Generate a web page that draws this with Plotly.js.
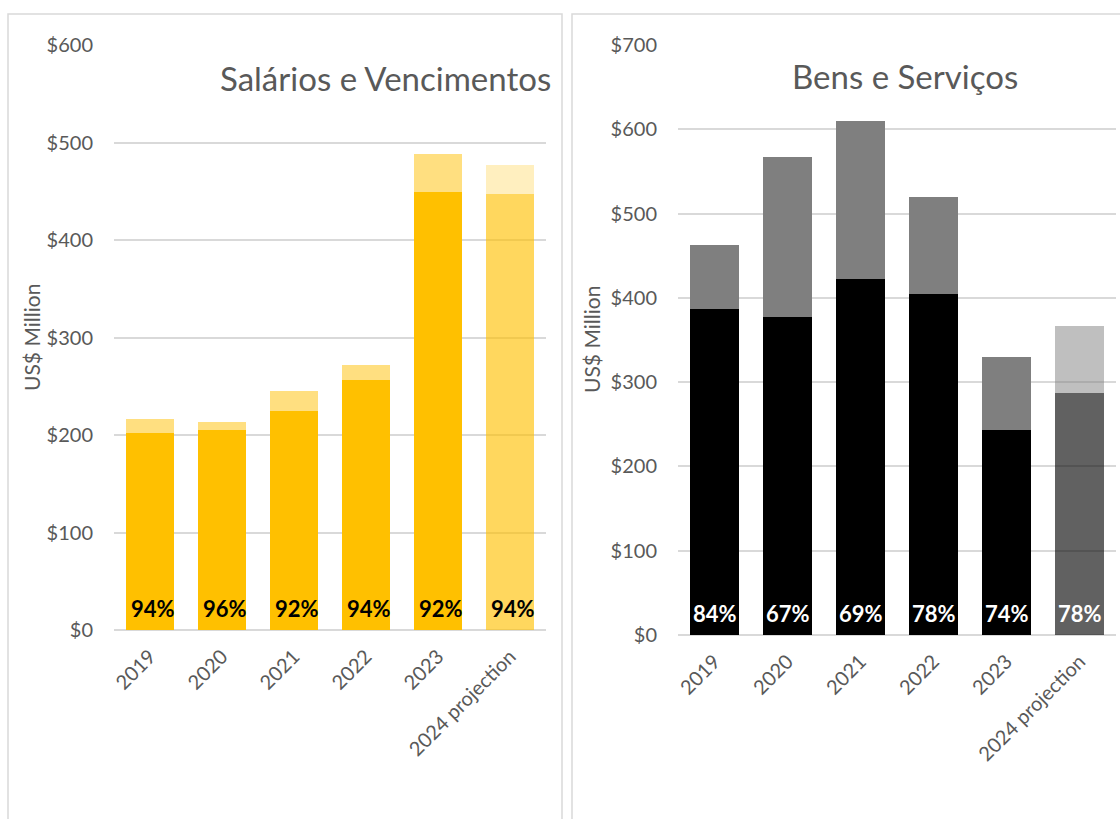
<!DOCTYPE html>
<html>
<head>
<meta charset="utf-8">
<script src="https://cdn.plot.ly/plotly-3.0.1.min.js"></script>
<style>html,body{margin:0;padding:0;background:#fff;}#chart{width:1120px;height:819px;}</style>
</head>
<body>
<div id="chart"></div>
<script>
const categories = ['2019', '2020', '2021', '2022', '2023', '2024 projection'];
const salariosTotal = [216, 213, 245, 272, 488, 477];
const salariosExecuted = [202, 205, 225, 256, 449, 447];
const salariosPct = ['94%', '96%', '92%', '94%', '92%', '94%'];
const bensTotal = [463, 567, 610, 520, 330, 367];
const bensExecuted = [387, 377, 422, 405, 243, 287];
const bensPct = ['84%', '67%', '69%', '78%', '74%', '78%'];
const yTicksLeft = [0, 100, 200, 300, 400, 500, 600];
const yTicksRight = [0, 100, 200, 300, 400, 500, 600, 700];

const salExecColors = ['#FFC000', '#FFC000', '#FFC000', '#FFC000', '#FFC000', 'rgba(255,192,0,0.63)'];
const salRestColors = ['#FFDF80', '#FFDF80', '#FFDF80', '#FFDF80', '#FFDF80', 'rgba(255,223,128,0.5)'];
const bensExecColors = ['#000000', '#000000', '#000000', '#000000', '#000000', 'rgba(0,0,0,0.62)'];
const bensRestColors = ['#7F7F7F', '#7F7F7F', '#7F7F7F', '#7F7F7F', '#7F7F7F', 'rgba(127,127,127,0.5)'];

const idx = categories.map((c, i) => i);
const salRest = salariosTotal.map((t, i) => t - salariosExecuted[i]);
const bensRest = bensTotal.map((t, i) => t - bensExecuted[i]);

const FONT = 'Lato, "Open Sans", sans-serif';
const GREY = '#595959';

const traces = [
  {type: 'bar', x: idx, y: salariosExecuted, width: 0.667, xaxis: 'x', yaxis: 'y', marker: {color: salExecColors}, hoverinfo: 'skip', showlegend: false},
  {type: 'bar', x: idx, y: salRest, width: 0.667, xaxis: 'x', yaxis: 'y', marker: {color: salRestColors}, hoverinfo: 'skip', showlegend: false},
  {type: 'bar', x: idx, y: bensExecuted, width: 0.667, xaxis: 'x2', yaxis: 'y2', marker: {color: bensExecColors}, hoverinfo: 'skip', showlegend: false},
  {type: 'bar', x: idx, y: bensRest, width: 0.667, xaxis: 'x2', yaxis: 'y2', marker: {color: bensRestColors}, hoverinfo: 'skip', showlegend: false}
];

const annotations = [];
idx.forEach(i => {
  annotations.push({xref: 'x', yref: 'y', x: i, y: 0, yshift: 22, xshift: 3, text: '<b>' + salariosPct[i] + '</b>',
    showarrow: false, yanchor: 'middle', font: {family: FONT, size: 22, color: '#000000'}});
  annotations.push({xref: 'x2', yref: 'y2', x: i, y: 0, yshift: 22, text: '<b>' + bensPct[i] + '</b>',
    showarrow: false, yanchor: 'middle', font: {family: FONT, size: 22, color: '#FFFFFF'}});
});
annotations.push({xref: 'paper', yref: 'paper', x: 385 / 1120, y: (819 - 78) / 819, text: 'Salários e Vencimentos',
  showarrow: false, xanchor: 'center', yanchor: 'middle', font: {family: FONT, size: 33, color: GREY}});
annotations.push({xref: 'paper', yref: 'paper', x: 905 / 1120, y: (819 - 76) / 819, text: 'Bens e Serviços',
  showarrow: false, xanchor: 'center', yanchor: 'middle', font: {family: FONT, size: 33, color: GREY}});
annotations.push({xref: 'paper', yref: 'paper', x: 31 / 1120, y: (819 - 338) / 819, text: 'US$ Million', textangle: -90,
  showarrow: false, xanchor: 'center', yanchor: 'middle', font: {family: FONT, size: 21, color: GREY}});
annotations.push({xref: 'paper', yref: 'paper', x: 591 / 1120, y: (819 - 340) / 819, text: 'US$ Million', textangle: -90,
  showarrow: false, xanchor: 'center', yanchor: 'middle', font: {family: FONT, size: 21, color: GREY}});

function xAxis(domain, anchor) {
  return {type: 'linear', domain: domain, anchor: anchor, range: [-0.5, categories.length - 0.5], tickmode: 'array',
    tickvals: idx, ticktext: categories, tickangle: -45, showgrid: false, zeroline: false, showline: false,
    ticks: '', tickfont: {family: FONT, size: 20, color: GREY}, automargin: false, fixedrange: true, ticklabelstandoff: 10};
}
function yAxis(domain, anchor, maxv, vals) {
  return {type: 'linear', domain: domain, anchor: anchor, range: [0, maxv], tickmode: 'array', tickvals: vals, ticktext: vals.map(v => '$' + v),
    showgrid: true, gridcolor: '#D9D9D9', gridwidth: 1.5, zeroline: true, zerolinecolor: '#D9D9D9', zerolinewidth: 2,
    showline: false, ticks: '', tickfont: {family: FONT, size: 20, color: GREY}, automargin: false, fixedrange: true, ticklabelstandoff: 20};
}

const layout = {
  width: 1120, height: 819,
  margin: {l: 0, r: 0, t: 0, b: 0},
  paper_bgcolor: '#FFFFFF', plot_bgcolor: 'rgba(0,0,0,0)',
  barmode: 'stack',
  showlegend: false,
  xaxis: xAxis([114 / 1120, 546 / 1120], 'y'),
  yaxis: yAxis([(819 - 630) / 819, (819 - 45) / 819], 'x', 600, yTicksLeft),
  xaxis2: xAxis([678 / 1120, 1116 / 1120], 'y2'),
  yaxis2: yAxis([(819 - 635) / 819, (819 - 45) / 819], 'x2', 700, yTicksRight),
  annotations: annotations,
  shapes: [
    {type: 'rect', xref: 'paper', yref: 'paper', x0: 8 / 1120, x1: 562 / 1120, y0: -0.05, y1: (819 - 14) / 819, line: {color: '#D9D9D9', width: 1.5}, layer: 'below'},
    {type: 'rect', xref: 'paper', yref: 'paper', x0: 572 / 1120, x1: 1.05, y0: -0.05, y1: (819 - 14) / 819, line: {color: '#D9D9D9', width: 1.5}, layer: 'below'}
  ]
};

Plotly.newPlot('chart', traces, layout, {displayModeBar: false});
</script>
</body>
</html>
